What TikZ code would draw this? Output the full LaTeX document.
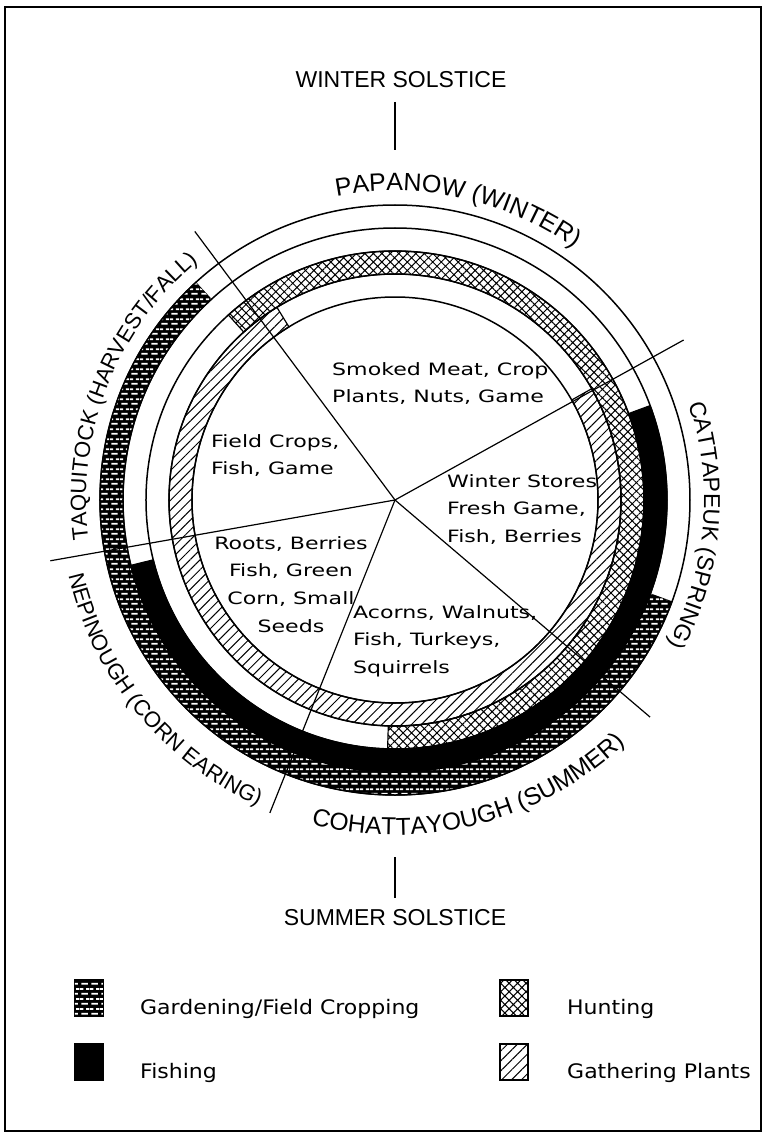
\documentclass[tikz,border=0pt]{standalone}
\usepackage{fontspec}
\setmainfont{DejaVu Sans}
\newfontfamily\capsfont{Liberation Sans}
\newfontfamily\notefont[FakeStretch=1.3]{DejaVu Sans}
\newfontfamily\keyfont[FakeStretch=1.1]{DejaVu Sans}
\usetikzlibrary{decorations.text, patterns.meta}

% white dashes laid like bricks, for the field cropping band
\tikzdeclarepattern{
  name=cadbricks,
  type=uncolored,
  bounding box={(0pt,0pt) and (10pt,10pt)},
  tile size={(10pt,10pt)},
  code={
    \draw[line width=2pt] (1.5pt,2.5pt) -- (8.5pt,2.5pt) (0pt,7.5pt) -- (3.5pt,7.5pt) (6.5pt,7.5pt) -- (10pt,7.5pt);
  }
}

% one band of the wheel: inner radius, outer radius, start angle, end angle, style
\newcommand{\ringband}[5]{%
  \path[#5] (#3:#1) arc[start angle=#3, end angle=#4, radius=#1]
    -- (#4:#2) arc[start angle=#4, end angle=#3, radius=#2] -- cycle;}

\begin{document}
\begin{tikzpicture}[x=1pt, y=1pt,
    % Define the styles for the rings and the bands
    ring/.style={line width=1.5pt},
    ray/.style={line width=1.2pt},
    garden/.style={fill=black, draw=black, line width=1.2pt,
        postaction={pattern=cadbricks, pattern color=white}},
    fishband/.style={fill=black, draw=black, line width=1.2pt},
    huntband/.style={draw=black, line width=1.2pt,
        pattern={Hatch[angle=45, distance=6pt, line width=1pt]}},
    gatherband/.style={draw=black, line width=1.2pt,
        pattern={Lines[angle=45, distance=7pt, line width=1pt]}},
    note/.style={font=\notefont\fontsize{17}{27.7}\selectfont, inner sep=0pt},
    keytext/.style={font=\keyfont\fontsize{20}{24}\selectfont, inner sep=0pt, anchor=base west},
    solstice/.style={font=\capsfont\fontsize{23}{27}\selectfont, inner sep=0pt},
    season/.style 2 args={decorate, decoration={text along path, text align=center,
        text={|\capsfont\fontsize{#1}{#1}\selectfont|#2}}}
]

\useasboundingbox (-395,-636) rectangle (371,500);
\draw[line width=2.5pt] (-390,493) rectangle (366,-631);

% Define the centre and the ends of the season lines
\coordinate (c) at (0,0);
\coordinate (winterfall) at (126.7:335);
\coordinate (winterspring) at (29:330);
\coordinate (springsummer) at (-40.4:335);
\coordinate (summercorn) at (248.2:337);
\coordinate (cornfall) at (190:350);

% Draw the activity bands
\ringband{272}{295}{132.5}{339.8}{garden}
\ringband{249}{272}{193.9}{380.3}{fishband}
\ringband{226}{249}{-91.7}{132}{huntband}
\ringband{203}{226}{121.5}{389.5}{gatherband}

% Draw the rings
\foreach \r in {203,226,249,272,295}
    \draw[ring] (c) circle (\r);

% Draw the season lines
\draw[ray] (c) -- (winterfall);
\draw[ray] (c) -- (winterspring);
\draw[ray] (c) -- (springsummer);
\draw[ray] (c) -- (summercorn);
\draw[ray] (c) -- (cornfall);

% Season names round the wheel
\path[season={25}{PAPANOW (WINTER)}] (117.7:309) arc[start angle=117.7, end angle=37.7, radius=309];
\path[season={23}{CATTAPEUK (SPRING)}] (35.1:309) arc[start angle=35.1, end angle=-44.9, radius=309];
\path[season={22}{TAQUITOCK (HARVEST/FALL)}] (198.5:309) arc[start angle=198.5, end angle=118.5, radius=309];
\path[season={24.5}{COHATTAYOUGH (SUMMER)}] (244.5:335) arc[start angle=244.5, end angle=324.5, radius=335];
\path[season={22}{NEPINOUGH (CORN EARING)}] (184.4:335) arc[start angle=184.4, end angle=254.4, radius=335];

% Foods of each season
\node[note, anchor=north west, align=left] (winterfood) at (-63,138) {Smoked Meat, Crop\\Plants, Nuts, Game};
\node[note, anchor=north west, align=left] (fallfood) at (-184,66) {Field Crops,\\Fish, Game};
\node[note, anchor=north west, align=left] (springfood) at (52,26) {Winter Stores\\Fresh Game,\\Fish, Berries};
\node[note, anchor=north, align=center] (cornfood) at (-104,-36) {Roots, Berries\\Fish, Green\\Corn, Small\\Seeds};
\node[note, anchor=north west, align=left] (summerfood) at (-42,-105) {Acorns, Walnuts,\\Fish, Turkeys,\\Squirrels};

% Solstices
\node[solstice] (wintersol) at (6,420) {WINTER SOLSTICE};
\coordinate (wintertop) at (0,398);
\coordinate (winterbot) at (0,350);
\draw[line width=1.2pt] (wintertop) -- (winterbot);
\node[solstice] (summersol) at (0,-418) {SUMMER SOLSTICE};
\coordinate (summertop) at (0,-357);
\coordinate (summerbot) at (0,-398);
\draw[line width=1.2pt] (summertop) -- (summerbot);

% Legend
\path[garden] (-320,-480) rectangle (-292,-516);
\node[keytext] (gardenkey) at (-255,-514) {Gardening/Field Cropping};
\path[huntband] (105,-480) rectangle (133,-516);
\node[keytext] (huntkey) at (172,-514) {Hunting};
\path[fishband] (-320,-544) rectangle (-292,-580);
\node[keytext] (fishkey) at (-255,-578) {Fishing};
\path[gatherband] (105,-544) rectangle (133,-580);
\node[keytext] (gatherkey) at (172,-578) {Gathering Plants};

\end{tikzpicture}
\end{document}
